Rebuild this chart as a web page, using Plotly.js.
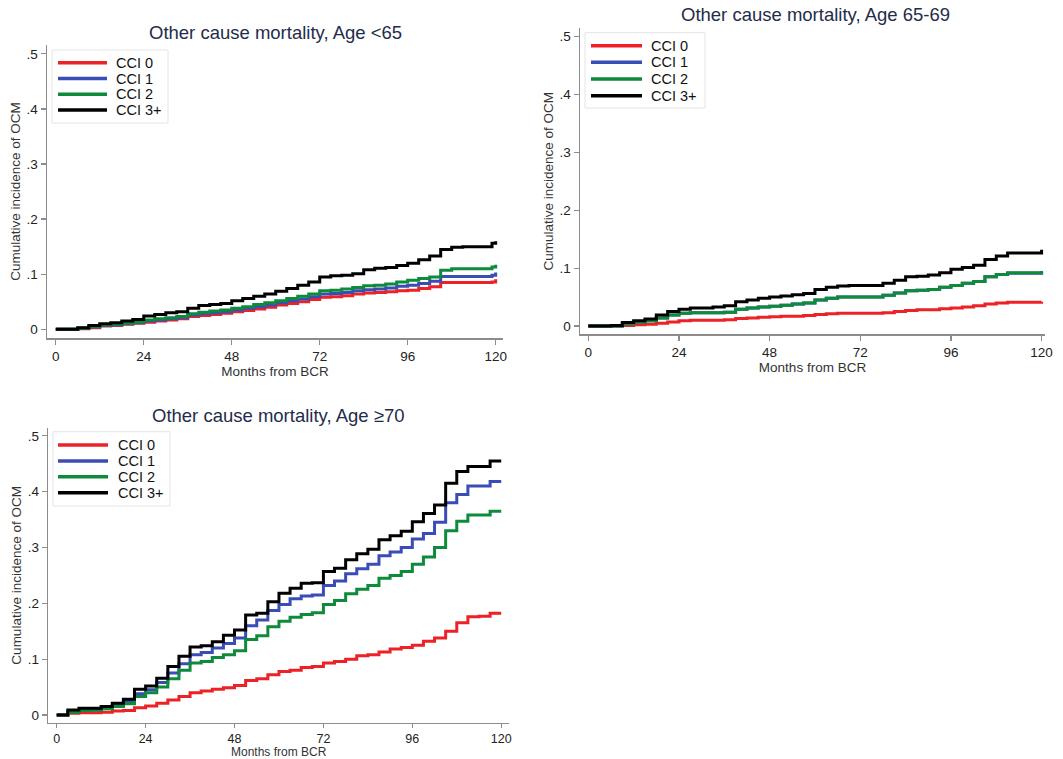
<!DOCTYPE html>
<html>
<head>
<meta charset="utf-8">
<script src="https://cdn.plot.ly/plotly-3.0.1.min.js"></script>
<style>
  html, body { margin: 0; padding: 0; background: #ffffff; }
  #chart { width: 1063px; height: 759px; }
</style>
</head>
<body>
<div id="chart"></div>
<script>
// ---- Data ----
const months = [0,3,6,9,12,15,18,21,24,27,30,33,36,39,42,45,48,51,54,57,60,63,66,69,72,75,78,81,84,87,90,93,96,99,102,105,108,111,114,117,119,120];
const seriesNames = ["CCI 0", "CCI 1", "CCI 2", "CCI 3+"];
const panelTitles = ["Other cause mortality, Age <65", "Other cause mortality, Age 65-69", "Other cause mortality, Age \u226570"];
const xTickVals = [0, 24, 48, 72, 96, 120];
const xTickText = ["0", "24", "48", "72", "96", "120"];
const yTickVals = [0, 0.1, 0.2, 0.3, 0.4, 0.5];
const yTickText = ["0", ".1", ".2", ".3", ".4", ".5"];
const xTitle = "Months from BCR";
const yTitle = "Cumulative incidence of OCM";

// Age <65
const lt65_cci0 = [0,0,0.001,0.003,0.006,0.007,0.009,0.011,0.013,0.015,0.017,0.019,0.023,0.025,0.027,0.029,0.032,0.034,0.037,0.040,0.044,0.047,0.050,0.054,0.058,0.059,0.061,0.064,0.066,0.067,0.068,0.070,0.071,0.074,0.077,0.085,0.085,0.085,0.085,0.085,0.086,0.091];
const lt65_cci1 = [0,0,0.002,0.004,0.007,0.008,0.010,0.012,0.015,0.017,0.019,0.021,0.026,0.028,0.030,0.032,0.035,0.038,0.041,0.044,0.048,0.052,0.055,0.059,0.064,0.065,0.067,0.070,0.072,0.073,0.075,0.078,0.080,0.083,0.087,0.096,0.096,0.096,0.096,0.096,0.098,0.103];
const lt65_cci2 = [0,0,0.002,0.005,0.008,0.009,0.011,0.013,0.017,0.019,0.021,0.023,0.028,0.031,0.033,0.035,0.038,0.041,0.045,0.048,0.052,0.056,0.060,0.064,0.070,0.071,0.073,0.076,0.079,0.080,0.082,0.086,0.089,0.092,0.095,0.107,0.110,0.110,0.110,0.110,0.113,0.117];
const lt65_cci3 = [0,0,0.003,0.007,0.010,0.012,0.015,0.018,0.024,0.027,0.030,0.032,0.038,0.043,0.045,0.047,0.052,0.056,0.060,0.064,0.069,0.074,0.080,0.086,0.095,0.097,0.098,0.101,0.108,0.111,0.112,0.116,0.120,0.126,0.133,0.145,0.149,0.150,0.150,0.150,0.156,0.160];

// Age 65-69
const a6569_cci0 = [0,0,0,0.001,0.002,0.003,0.005,0.007,0.009,0.010,0.010,0.010,0.011,0.013,0.014,0.015,0.016,0.017,0.017,0.018,0.020,0.021,0.022,0.022,0.022,0.022,0.023,0.025,0.027,0.028,0.028,0.030,0.031,0.033,0.035,0.038,0.040,0.041,0.041,0.041,0.041,0.042];
const a6569_cci1 = [0,0,0,0.004,0.007,0.009,0.014,0.019,0.022,0.023,0.023,0.023,0.024,0.029,0.031,0.033,0.034,0.036,0.038,0.040,0.045,0.048,0.050,0.050,0.050,0.050,0.053,0.057,0.061,0.062,0.063,0.067,0.070,0.074,0.077,0.085,0.089,0.091,0.091,0.091,0.091,0.094];
const a6569_cci2 = [0,0,0,0.004,0.007,0.009,0.014,0.019,0.022,0.023,0.023,0.023,0.024,0.029,0.031,0.033,0.034,0.036,0.038,0.040,0.045,0.048,0.050,0.050,0.050,0.050,0.053,0.057,0.061,0.062,0.063,0.067,0.070,0.074,0.077,0.085,0.089,0.092,0.092,0.092,0.092,0.095];
const a6569_cci3 = [0,0,0.001,0.006,0.009,0.012,0.019,0.025,0.029,0.031,0.031,0.033,0.035,0.042,0.045,0.048,0.050,0.052,0.054,0.056,0.063,0.067,0.069,0.070,0.070,0.070,0.074,0.079,0.085,0.086,0.088,0.092,0.098,0.101,0.105,0.115,0.121,0.126,0.126,0.126,0.126,0.132];

// Age >=70
const ge70_cci0 = [0,0.003,0.004,0.004,0.005,0.007,0.008,0.013,0.016,0.021,0.027,0.033,0.040,0.043,0.046,0.049,0.053,0.062,0.065,0.072,0.078,0.080,0.085,0.087,0.093,0.096,0.100,0.106,0.108,0.113,0.118,0.121,0.125,0.132,0.138,0.150,0.165,0.176,0.177,0.182,0.182,0.182];
const ge70_cci1 = [0,0.006,0.008,0.009,0.012,0.017,0.024,0.038,0.045,0.058,0.075,0.092,0.108,0.112,0.120,0.128,0.138,0.160,0.170,0.187,0.198,0.208,0.213,0.215,0.232,0.240,0.253,0.262,0.270,0.285,0.292,0.300,0.315,0.325,0.345,0.380,0.395,0.410,0.410,0.418,0.418,0.418];
const ge70_cci2 = [0,0.005,0.008,0.009,0.011,0.015,0.020,0.033,0.040,0.050,0.065,0.080,0.093,0.096,0.103,0.108,0.115,0.135,0.142,0.158,0.168,0.175,0.180,0.183,0.198,0.205,0.217,0.225,0.232,0.245,0.250,0.257,0.270,0.283,0.300,0.330,0.347,0.358,0.358,0.365,0.365,0.365];
const ge70_cci3 = [0,0.009,0.012,0.012,0.015,0.021,0.028,0.046,0.052,0.066,0.087,0.105,0.122,0.124,0.131,0.143,0.152,0.179,0.182,0.203,0.218,0.227,0.236,0.237,0.257,0.263,0.278,0.289,0.297,0.314,0.321,0.329,0.346,0.361,0.376,0.415,0.436,0.445,0.445,0.455,0.455,0.455];

// ---- Styling ----
const colors = ["#ec2227", "#3a4cb5", "#0d8a3a", "#000000"];
const FONT = "Liberation Sans, Arial, sans-serif";
const axisGray = "#8c8c8c";
const titleColor = "#1f2c4c";
const W = 1063, H = 759;
const px = (v) => v / W;
const py = (v) => 1 - v / H;

// panel geometry in picture pixels; legend box, line sample span, text start, row centres
const panels = [
  { data: [lt65_cci0, lt65_cci1, lt65_cci2, lt65_cci3], xa: "x", ya: "y",
    xdom: [47, 503], ydom: [338, 45], xr: [-2.4, 122.0], yr: [-0.0158, 0.516],
    title: [275, 33], xtick: 13.5, xtitle: 13.5, xticklen: 5,
    leg: { box: [52, 50, 168, 123], line: [58, 107], text: 114, rows: [62.7, 78.5, 94.3, 110] } },
  { data: [a6569_cci0, a6569_cci1, a6569_cci2, a6569_cci3], xa: "x2", ya: "y2",
    xdom: [580, 1045], ydom: [334.3, 28.3], xr: [-2.2, 120.9], yr: [-0.0143, 0.5145],
    title: [815, 15], xtick: 13.5, xtitle: 13.5, xticklen: 5,
    leg: { box: [585, 32.7, 705, 108], line: [591, 642], text: 649, rows: [45.7, 62.3, 79, 95.7] } },
  { data: [ge70_cci0, ge70_cci1, ge70_cci2, ge70_cci3], xa: "x3", ya: "y3",
    xdom: [48.3, 509], ydom: [722.7, 428], xr: [-2.27, 122.1], yr: [-0.0138, 0.514],
    title: [278, 415], xtick: 12.5, xtitle: 12, xticklen: 4,
    leg: { box: [53, 431.7, 170, 506], line: [58, 108], text: 116, rows: [445, 461, 476.7, 492.7] } }
];

const traces = [];
panels.forEach((p) => {
  p.data.forEach((vals, i) => {
    traces.push({
      type: "scatter", mode: "lines",
      x: months, y: vals,
      xaxis: p.xa, yaxis: p.ya,
      name: seriesNames[i],
      showlegend: false,
      line: { color: colors[i], width: 3, shape: "hv" },
      hoverinfo: "skip"
    });
  });
});

const layout = {
  width: W, height: H,
  margin: { l: 0, r: 0, t: 0, b: 0 },
  paper_bgcolor: "#ffffff", plot_bgcolor: "#ffffff",
  font: { family: FONT, color: "#222222", size: 13 },
  annotations: [],
  shapes: [],
  showlegend: false
};

panels.forEach((p, k) => {
  const sfx = k === 0 ? "" : String(k + 1);
  layout["xaxis" + sfx] = {
    domain: [px(p.xdom[0]), px(p.xdom[1])], range: p.xr, anchor: p.ya,
    tickvals: xTickVals, ticktext: xTickText,
    ticks: "outside", ticklen: p.xticklen, tickwidth: 1.3, tickcolor: axisGray,
    showline: true, linecolor: axisGray, linewidth: 1.5,
    showgrid: false, zeroline: false,
    tickfont: { family: FONT, size: p.xtick, color: "#222222" },
    title: { text: xTitle, font: { family: FONT, size: p.xtitle, color: "#333333" }, standoff: 1 }
  };
  layout["yaxis" + sfx] = {
    domain: [py(p.ydom[0]), py(p.ydom[1])], range: p.yr, anchor: p.xa,
    tickvals: yTickVals, ticktext: yTickText,
    ticks: "outside", ticklen: 5, tickwidth: 1.3, tickcolor: axisGray,
    showline: true, linecolor: axisGray, linewidth: 1.5,
    showgrid: false, zeroline: false,
    tickfont: { family: FONT, size: 13.5, color: "#222222" },
    title: { text: yTitle, font: { family: FONT, size: 13.5, color: "#333333" }, standoff: 3 }
  };
  // subplot title
  layout.annotations.push({
    text: panelTitles[k], xref: "paper", yref: "paper",
    x: px(p.title[0]), y: py(p.title[1]), xanchor: "center", yanchor: "middle",
    showarrow: false, font: { family: FONT, size: 18.5, color: titleColor }
  });
  // legend box
  const L = p.leg;
  layout.shapes.push({
    type: "rect", xref: "paper", yref: "paper",
    x0: px(L.box[0]), x1: px(L.box[2]), y0: py(L.box[3]), y1: py(L.box[1]),
    line: { color: "#e4e4e4", width: 1 }, fillcolor: "#ffffff", layer: "above"
  });
  seriesNames.forEach((nm, i) => {
    layout.shapes.push({
      type: "line", xref: "paper", yref: "paper",
      x0: px(L.line[0]), x1: px(L.line[1]), y0: py(L.rows[i]), y1: py(L.rows[i]),
      line: { color: colors[i], width: 3.5 }, layer: "above"
    });
    layout.annotations.push({
      text: nm, xref: "paper", yref: "paper",
      x: px(L.text), y: py(L.rows[i]), xanchor: "left", yanchor: "middle",
      showarrow: false, font: { family: FONT, size: 14.5, color: "#111111" }
    });
  });
});

Plotly.newPlot("chart", traces, layout, { displayModeBar: false, staticPlot: true });
</script>
</body>
</html>
